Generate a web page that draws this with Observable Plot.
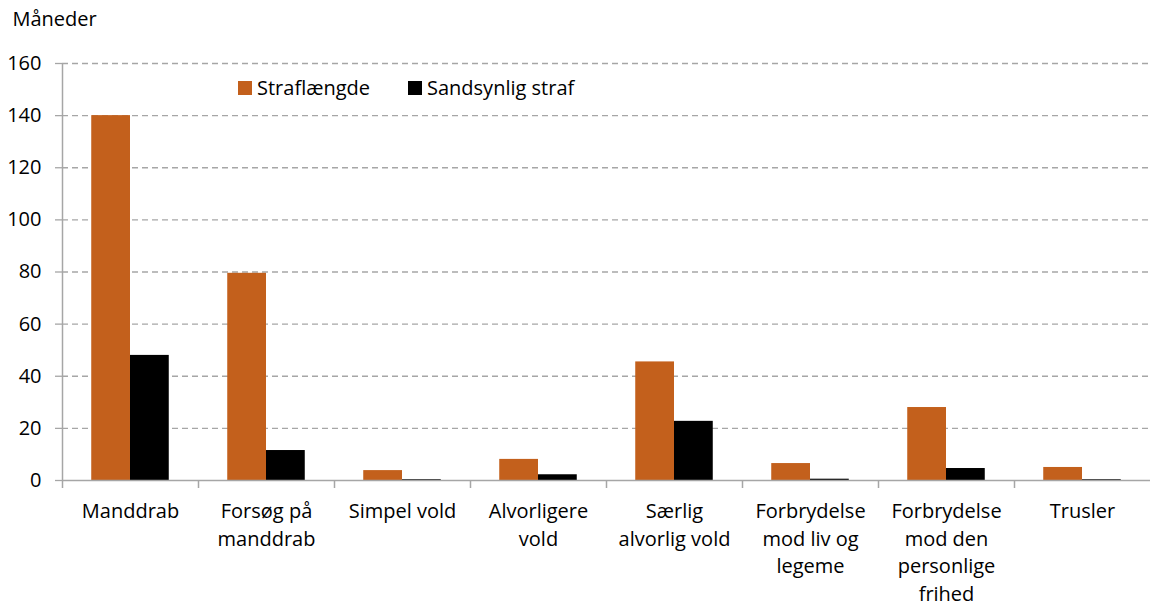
<!DOCTYPE html>
<html><head><meta charset="utf-8">
<script src="https://cdn.jsdelivr.net/npm/d3@7"></script>
<script src="https://cdn.jsdelivr.net/npm/@observablehq/plot@0.6"></script>
<style>
body{margin:0;background:#fff;}
#chart{position:relative;width:1150px;height:610px;font-family:"Open Sans",sans-serif;}
</style></head><body>
<div id="chart"></div>
<script>
const categories = ["Manddrab","Forsøg på manddrab","Simpel vold","Alvorligere vold","Særlig alvorlig vold","Forbrydelse mod liv og legeme","Forbrydelse mod den personlige frihed","Trusler"];
const categoryLabels = ["Manddrab","Forsøg på\nmanddrab","Simpel vold","Alvorligere\nvold","Særlig\nalvorlig vold","Forbrydelse\nmod liv og\nlegeme","Forbrydelse\nmod den\npersonlige\nfrihed","Trusler"];
const straflaengde = [140, 79.5, 3.8, 8.1, 45.5, 6.5, 28, 5.0];
const sandsynlig = [48, 11.5, 0.3, 2.2, 22.7, 0.5, 4.6, 0.3];
const seriesNames = ["Straflængde","Sandsynlig straf"];
const seriesColors = ["#C3601C","#000000"];
const yTicks = [0,20,40,60,80,100,120,140,160];

const labelMap = new Map(categories.map((c,i)=>[c,categoryLabels[i]]));
const orange = categories.map((c,i)=>({cat:c, v:straflaengde[i]}));
const black = categories.map((c,i)=>({cat:c, v:sandsynlig[i]}));
const W = 1150, H = 610, mL = 62, mR = 0, mT = 63, mB = 130;
const bw = (W - mL - mR) / categories.length;
const grid = "#a6a6a6";
const fs = 20;

const plot = Plot.plot({
  width: W, height: H,
  marginLeft: mL, marginRight: mR, marginTop: mT, marginBottom: mB,
  style: {fontFamily: "'Open Sans', sans-serif", fontSize: fs + "px", color: "#000", background: "transparent", overflow: "visible"},
  x: {domain: categories, padding: 0, axis: null},
  y: {domain: [0,160], axis: null},
  marks: [
    Plot.gridY(yTicks.filter(d=>d>0), {stroke: grid, strokeOpacity: 1, strokeWidth: 1.3, strokeDasharray: "6,4"}),
    Plot.axisY(yTicks, {tickSize: 7, tickPadding: 14, stroke: grid, strokeOpacity: 1, strokeWidth: 1.3, fill: "#000", fontSize: fs, label: null, tickFormat: d=>String(d)}),
    Plot.barY(orange, {x: "cat", y: "v", fill: seriesColors[0], insetLeft: bw*0.215, insetRight: bw*0.5}),
    Plot.barY(black, {x: "cat", y: "v", fill: seriesColors[1], insetLeft: bw*0.5, insetRight: bw*0.215}),
    Plot.ruleY([0], {stroke: grid, strokeWidth: 1.5}),
    Plot.ruleX(categories, {x: d=>d, y1: 0, y2: 0, dx: -bw/2, stroke: grid, strokeWidth: 1.5, insetBottom: -8}),
    Plot.ruleX(categories.slice(0,1), {x: d=>d, y1: 0, y2: 160, dx: -bw/2, stroke: grid, strokeWidth: 1.5}),
    Plot.text(categories, {x: d=>d, y: 0, text: d=>labelMap.get(d), dy: 18, lineAnchor: "top", lineHeight: 1.38, fontSize: fs}),
    Plot.text(["Måneder"], {frameAnchor: "top-left", text: d=>d, dx: -50, dy: -52, textAnchor: "start", lineAnchor: "top", fontSize: fs})
  ]
});
document.getElementById("chart").appendChild(plot);

// Legend inside plot area
const leg = document.createElement("div");
leg.style.cssText = `position:absolute;left:238px;top:74px;display:flex;gap:38px;font-size:${fs}px;font-family:'Open Sans',sans-serif;`;
seriesNames.forEach((n,i)=>{
  const it = document.createElement("div");
  it.style.cssText = "display:flex;align-items:center;gap:5px;background:#fff;";
  it.innerHTML = `<span style="display:inline-block;width:14px;height:14px;background:${seriesColors[i]}"></span><span>${n}</span>`;
  leg.appendChild(it);
});
document.getElementById("chart").appendChild(leg);
</script>
</body></html>
